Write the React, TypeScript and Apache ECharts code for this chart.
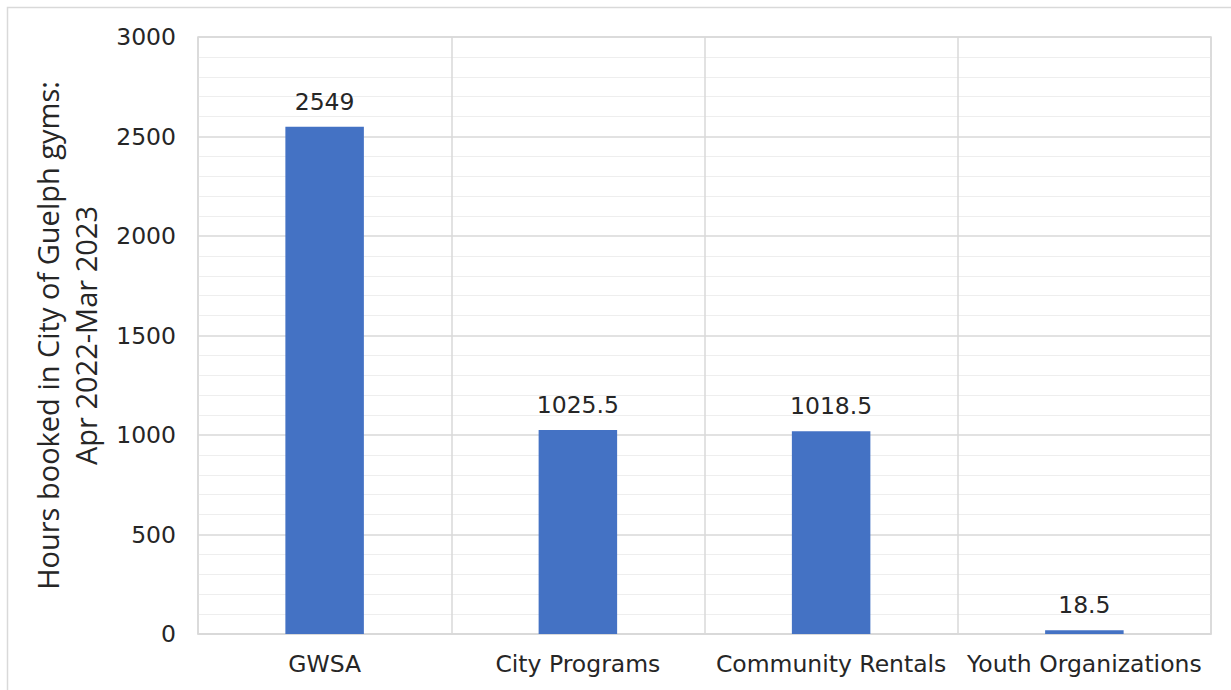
import React, { useEffect, useRef } from "react";
import * as echarts from "echarts";

const categories = ["GWSA", "City Programs", "Community Rentals", "Youth Organizations"];
const hours = [2549, 1025.5, 1018.5, 18.5];
const yTicks = [0, 500, 1000, 1500, 2000, 2500, 3000];
const axisTitle = "Hours booked in City of Guelph gyms:\nApr 2022-Mar 2023";

export default function App() {
  const ref = useRef<HTMLDivElement>(null);
  useEffect(() => {
    if (!ref.current) return;
    const chart = echarts.init(ref.current, null, { renderer: "svg" });
    const tickFont = "DejaVu Sans, Verdana, sans-serif";
    chart.setOption({
      animation: false,
      backgroundColor: "#ffffff",
      graphic: [
        {
          type: "rect",
          shape: { x: 7.5, y: 7.5, width: 1240, height: 700 },
          style: { fill: "none", stroke: "#d9d9d9", lineWidth: 1.5 },
          silent: true,
        },
      ],
      grid: { left: 198, right: 20, top: 37, bottom: 56, containLabel: false, show: true, borderColor: "#d9d9d9", borderWidth: 1.5 },
      xAxis: {
        type: "category",
        data: categories,
        axisLine: { show: true, lineStyle: { color: "#d9d9d9", width: 1.5 } },
        axisTick: { show: false },
        splitLine: { show: true, interval: 0, lineStyle: { color: "#d9d9d9", width: 1.5 } },
        axisLabel: { interval: 0, color: "#262626", fontFamily: tickFont, fontSize: 23.5, margin: 18 },
      },
      yAxis: {
        type: "value",
        min: yTicks[0],
        max: yTicks[yTicks.length - 1],
        interval: 500,
        name: axisTitle,
        nameLocation: "middle",
        nameRotate: 90,
        nameGap: 94,
        nameTextStyle: { color: "#262626", fontFamily: "Open Sans, sans-serif", fontSize: 29, lineHeight: 38, align: "center" },
        axisLine: { show: false },
        axisTick: { show: false },
        axisLabel: { color: "#262626", fontFamily: tickFont, fontSize: 23.5, margin: 22, formatter: (v: number) => String(v) },
        splitLine: { show: true, lineStyle: { color: "#d9d9d9", width: 1.5 } },
        minorTick: { show: false, splitNumber: 5 },
        minorSplitLine: { show: true, lineStyle: { color: "#eeeeee", width: 1.2 } },
      },
      series: [
        {
          type: "bar",
          data: hours,
          barWidth: "31%",
          itemStyle: { color: "#4472c4" },
          label: { show: true, position: "top", distance: 13, color: "#262626", fontFamily: tickFont, fontSize: 23.5 },
        },
      ],
    });
    return () => chart.dispose();
  }, []);
  return <div ref={ref} style={{ position: "fixed", left: 0, top: 0, width: 1231, height: 690 }} />;
}
